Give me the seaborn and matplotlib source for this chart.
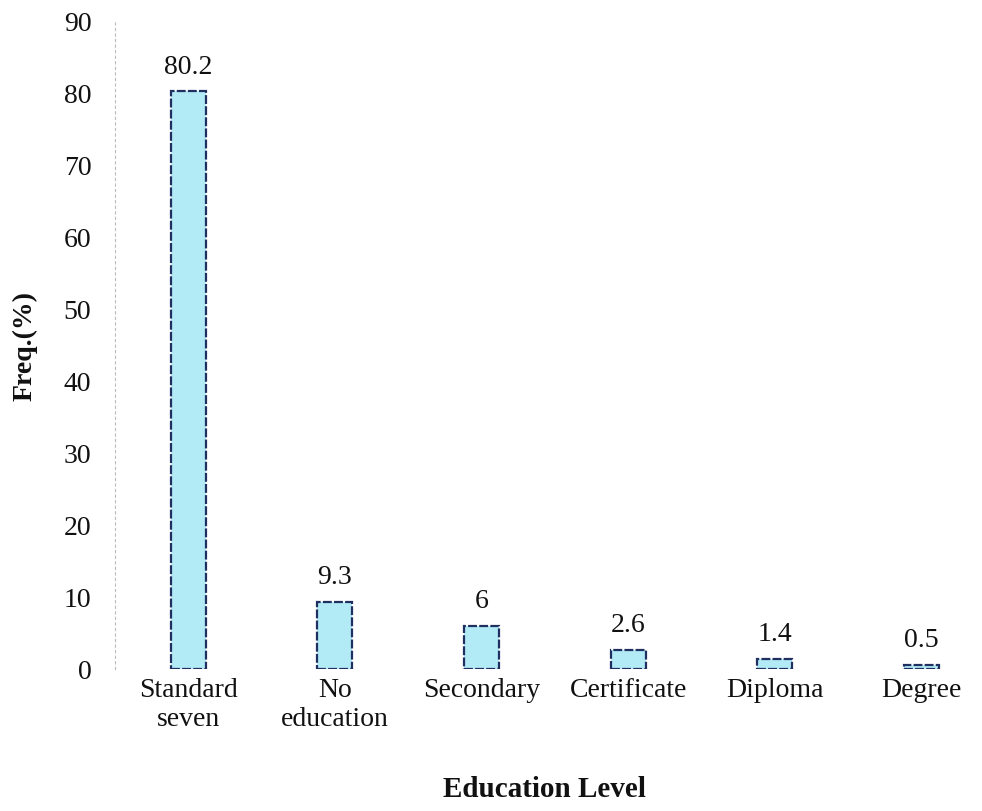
import matplotlib
matplotlib.use("Agg")
import matplotlib.pyplot as plt
import pandas as pd
import seaborn as sns

CATEGORIES = ["Standard\nseven", "No\neducation", "Secondary", "Certificate", "Diploma", "Degree"]
FREQ = [80.2, 9.3, 6, 2.6, 1.4, 0.5]
LABELS = ["80.2", "9.3", "6", "2.6", "1.4", "0.5"]
Y_TICKS = [0, 10, 20, 30, 40, 50, 60, 70, 80, 90]

df = pd.DataFrame({"level": CATEGORIES, "freq": FREQ})

sns.set_theme(style="white", rc={"text.color": "#111111", "axes.labelcolor": "#111111",
                                 "xtick.color": "#111111", "ytick.color": "#111111"})
plt.rcParams["font.family"] = ["Liberation Serif", "DejaVu Serif"]

fig = plt.figure(figsize=(9.82, 8.12), dpi=100)
ax = fig.add_axes([0.117, 0.175, 0.875, 0.798])

sns.barplot(data=df, x="level", y="freq", color="#B2EAF6", width=0.24,
            edgecolor="#1F2F5F", linewidth=1.6, linestyle=(0, (4, 1)),
            saturation=1, ax=ax)

for i, (v, lab) in enumerate(zip(FREQ, LABELS)):
    ax.text(i, v + 1.8, lab, ha="center", va="bottom", fontsize=20)

ax.set_ylim(0, 90)
ax.set_xlim(-0.5, 5.36)
ax.set_yticks(Y_TICKS)
ax.set_yticklabels([str(t) for t in Y_TICKS], fontsize=20)
ax.tick_params(axis="x", labelsize=20, length=0, pad=6)
ax.tick_params(axis="y", length=0, pad=17)

for s in ["top", "right", "bottom"]:
    ax.spines[s].set_visible(False)
ax.spines["left"].set_color("#BBBBBB")
ax.spines["left"].set_linewidth(0.8)
ax.spines["left"].set_linestyle((0, (2, 3)))

ax.set_xlabel("Education Level", fontsize=21, fontweight="bold", labelpad=32)
ax.set_ylabel("Freq.(%)", fontsize=20, fontweight="bold", labelpad=19)

fig.savefig("out.png", dpi=100)
